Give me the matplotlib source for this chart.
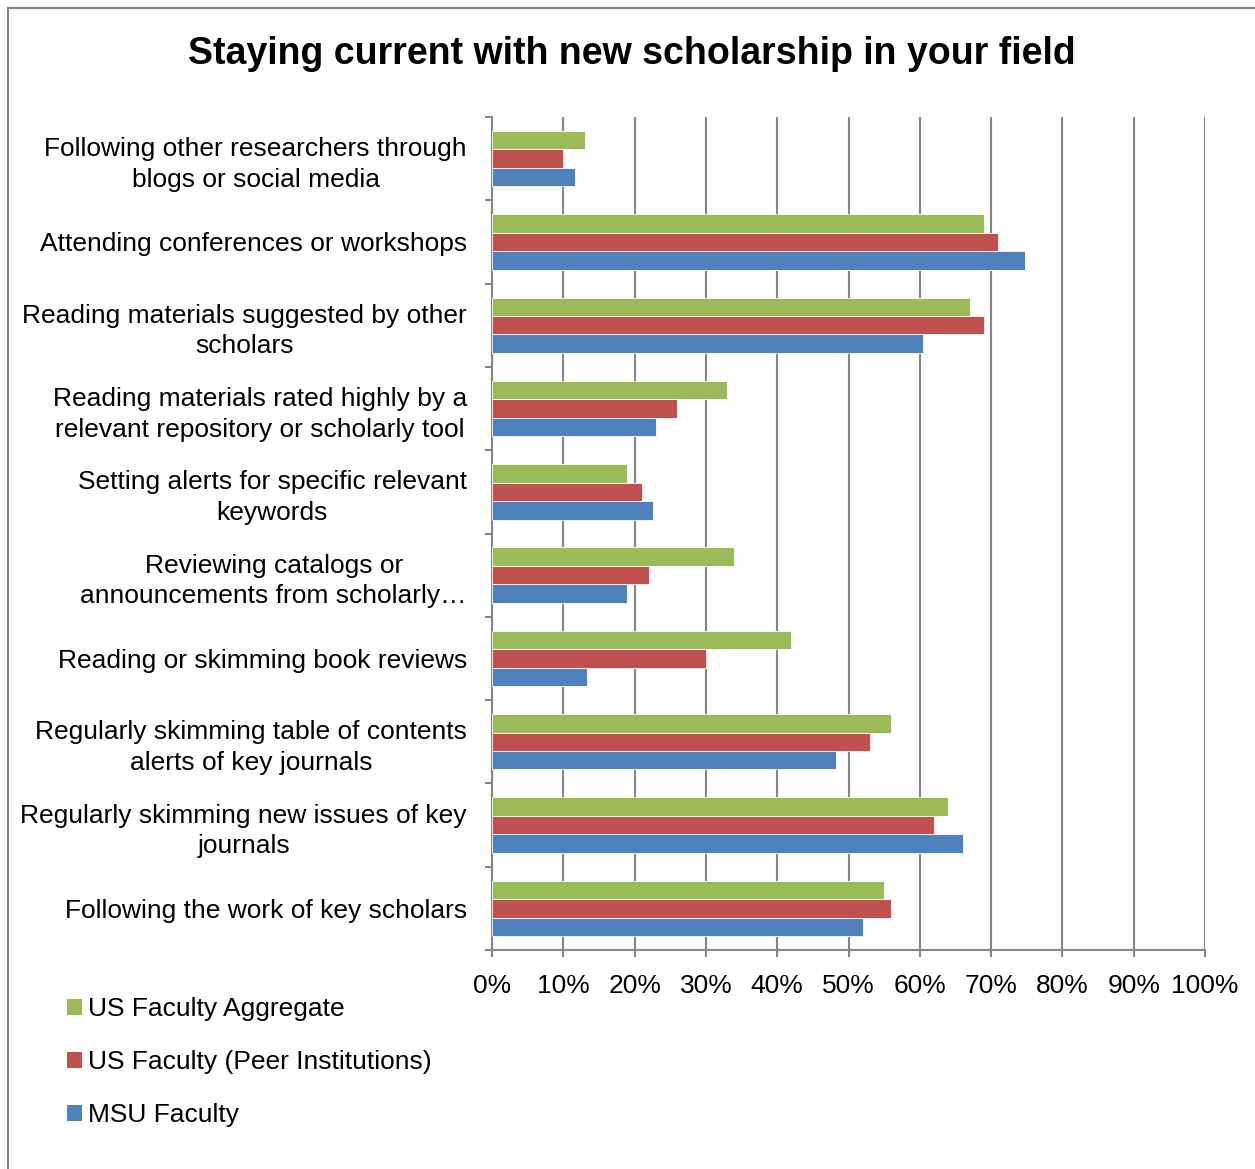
import numpy as np
import matplotlib
matplotlib.use("Agg")
import matplotlib.pyplot as plt
from matplotlib.patches import Patch, Rectangle

plt.rcParams['font.family'] = ['Liberation Sans', 'DejaVu Sans']

# categories listed bottom -> top (as Excel draws them)
categories = [
    "Following the work of key scholars",
    "Regularly skimming new issues of key\njournals",
    "Regularly skimming table of contents\nalerts of key journals",
    "Reading or skimming book reviews",
    "Reviewing catalogs or\nannouncements from scholarly\u2026",
    "Setting alerts for specific relevant\nkeywords",
    "Reading materials rated highly by a\nrelevant repository or scholarly tool",
    "Reading materials suggested by other\nscholars",
    "Attending conferences or workshops",
    "Following other researchers through\nblogs or social media",
]

msu_faculty = [52, 66, 48.3, 13.3, 19, 22.6, 23, 60.4, 74.8, 11.7]
us_peer = [56, 62, 53, 30, 22, 21, 26, 69, 71, 10]
us_aggregate = [55, 64, 56, 42, 34, 19, 33, 67, 69, 13]

series_names = ["MSU Faculty", "US Faculty (Peer Institutions)", "US Faculty Aggregate"]
colors = ["#4F81BD", "#C0504D", "#9BBB59"]

W, H = 1255, 1169
FS = 19
fig = plt.figure(figsize=(W / 100, H / 100), dpi=100)
ax = fig.add_axes([492 / W, 1 - 950 / H, 713 / W, 833 / H])

y = np.arange(len(categories))
bh = 0.222
for i, (vals, c) in enumerate(zip([msu_faculty, us_peer, us_aggregate], colors)):
    ax.barh(y + (i - 1) * bh, vals, height=bh, color=c, edgecolor="white", linewidth=0.6, zorder=3)

ax.set_xlim(0, 100)
ax.set_ylim(-0.5, len(categories) - 0.5)
ax.set_xticks(np.arange(0, 101, 10))
ax.set_xticklabels([f"{v}%" for v in range(0, 101, 10)], fontsize=FS)
ax.set_yticks(y)
ax.set_yticklabels(categories, fontsize=FS, multialignment="center", linespacing=1.35)
ax.set_yticks(np.arange(-0.5, len(categories), 1), minor=True)
ax.tick_params(axis="y", which="major", length=0, pad=18)
ax.tick_params(axis="y", which="minor", length=5, color="#868686", width=1.5)
ax.tick_params(axis="x", length=5, color="#868686", width=1.5, pad=12)

ax.grid(axis="x", color="#868686", linewidth=1.5, zorder=0)
for s in ["top", "right"]:
    ax.spines[s].set_visible(False)
for s in ["left", "bottom"]:
    ax.spines[s].set_color("#868686")
    ax.spines[s].set_linewidth(1.5)

fig.text(632 / W, 1 - 54 / H, "Staying current with new scholarship in your field",
         ha="center", va="center", fontsize=27, fontweight="bold")

handles = [Patch(facecolor=colors[i], label=series_names[i]) for i in [2, 1, 0]]
fig.legend(handles=handles, loc="upper left", bbox_to_anchor=(67 / W, 1 - 997 / H),
           frameon=False, fontsize=FS, handlelength=0.55, handleheight=0.55,
           handletextpad=0.25, labelspacing=1.1, borderaxespad=0, borderpad=0)

fig.patches.append(Rectangle((8 / W, -0.01), 1.0, 1 - 8 / H + 0.01, transform=fig.transFigure,
                             fill=False, edgecolor="#868686", linewidth=1.5))

fig.savefig("out.png", dpi=100)
